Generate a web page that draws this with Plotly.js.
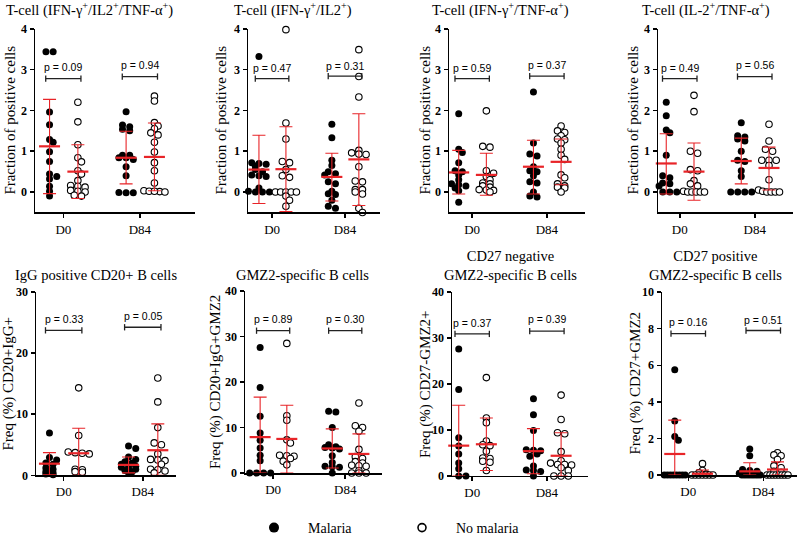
<!DOCTYPE html>
<html><head><meta charset="utf-8">
<script src="https://cdn.plot.ly/plotly-3.0.1.min.js"></script>
<style>html,body{margin:0;padding:0;background:#fff}#chart{width:797px;height:544px}</style>
</head><body><div id="chart"></div>
<script>
// ---------- data ----------
const timepoints = ["D0", "D84"];
const groupNames = ["Malaria", "No malaria"];
const titles = [
  "T-cell (IFN-γ<sup>+</sup>/IL2<sup>+</sup>/TNF-α<sup>+</sup>)",
  "T-cell (IFN-γ<sup>+</sup>/IL2<sup>+</sup>)",
  "T-cell (IFN-γ<sup>+</sup>/TNF-α<sup>+</sup>)",
  "T-cell (IL-2<sup>+</sup>/TNF-α<sup>+</sup>)",
  "IgG positive CD20+ B cells",
  "GMZ2-specific B cells",
  "CD27 negative<br>GMZ2-specific B cells",
  "CD27 positive<br>GMZ2-specific B cells"
];
const yTitles = [
  "Fraction of positive cells", "Fraction of positive cells",
  "Fraction of positive cells", "Fraction of positive cells",
  "Freq (%) CD20+IgG+", "Freq (%) CD20+IgG+GMZ2",
  "Freq (%) CD27-GMZ2+", "Freq (%) CD27+GMZ2"
];

// Panel 1: T-cell IFN-g/IL2/TNF-a
const p1MalD0  = [3.44, 3.44, 1.96, 1.65, 1.29, 1.22, 0.99, 0.75, 0.44, 0.38, 0.32, 0.14, 0.02, -0.10];
const p1NoD0   = [2.20, 1.72, 1.16, 0.84, 0.74, 0.52, 0.44, 0.28, 0.16, 0.14, 0.12, 0.04, 0.02, 0.00, -0.08, -0.10];
const p1MalD84 = [1.97, 1.64, 1.60, 1.54, 1.50, 0.90, 0.90, 0.84, 0.84, 0.80, 0.62, 0.40, -0.02, -0.01, -0.02];
const p1NoD84  = [2.35, 2.23, 1.70, 1.62, 1.55, 1.45, 1.40, 1.22, 0.98, 0.72, 0.52, 0.22, 0.03, 0.02, 0.01, 0.00, 0.02];
const p1Mean = [1.12, 0.50, 0.84, 0.86];
const p1Upper = [2.27, 1.16, 1.49, 1.69];
const p1Lower = [-0.04, -0.16, 0.20, 0.03];

// Panel 2: T-cell IFN-g/IL2
const p2MalD0  = [3.32, 0.72, 0.70, 0.68, 0.64, 0.55, 0.50, 0.42, 0.40, 0.38, 0.10, 0.02, 0.00, 0.00, 0.00];
const p2NoD0   = [3.98, 1.69, 1.30, 0.75, 0.72, 0.55, 0.40, 0.36, 0.00, 0.00, 0.00, 0.00, 0.00, -0.10, -0.20, -0.35];
const p2MalD84 = [1.66, 1.33, 0.78, 0.65, 0.50, 0.45, 0.42, 0.25, 0.20, 0.02, -0.04, -0.06, -0.20, -0.35, -0.40];
const p2NoD84  = [3.49, 2.83, 2.33, 1.02, 0.96, 0.93, 0.92, 0.62, 0.27, 0.25, 0.06, 0.06, 0.00, -0.05, -0.40, -0.50];
const p2Mean = [0.55, 0.56, 0.37, 0.80];
const p2Upper = [1.39, 1.60, 0.95, 1.92];
const p2Lower = [-0.28, -0.48, -0.22, -0.33];

// Panel 3: T-cell IFN-g/TNF-a
const p3MalD0  = [1.92, 1.05, 0.97, 0.72, 0.52, 0.50, 0.42, 0.30, 0.20, 0.18, 0.15, 0.10, 0.03, -0.25];
const p3NoD0   = [1.99, 1.12, 1.10, 0.52, 0.46, 0.38, 0.30, 0.22, 0.20, 0.15, 0.12, 0.06, 0.05, 0.04, 0.00];
const p3MalD84 = [2.45, 1.20, 0.93, 0.88, 0.62, 0.52, 0.50, 0.40, 0.25, 0.22, 0.00, -0.10, -0.12];
const p3NoD84  = [1.62, 1.50, 1.46, 1.38, 1.30, 1.28, 1.20, 1.05, 0.90, 0.80, 0.42, 0.35, 0.20, 0.15, 0.12, 0.10, 0.00];
const p3Mean = [0.48, 0.42, 0.62, 0.74];
const p3Upper = [1.02, 0.95, 1.27, 1.30];
const p3Lower = [-0.05, -0.08, -0.05, 0.18];

// Panel 4: T-cell IL-2/TNF-a
const p4MalD0  = [2.20, 1.87, 1.52, 1.45, 0.90, 0.40, 0.35, 0.22, 0.20, 0.15, 0.00, 0.00, 0.00, 0.00];
const p4NoD0   = [2.37, 1.97, 1.00, 0.95, 0.55, 0.52, 0.28, 0.20, 0.15, 0.02, 0.00, 0.00, 0.00, 0.00, 0.00];
const p4MalD84 = [1.70, 1.38, 1.35, 1.30, 1.25, 1.00, 0.78, 0.75, 0.52, 0.38, 0.00, 0.00, 0.00, 0.00];
const p4NoD84  = [1.66, 1.25, 1.05, 1.00, 0.78, 0.78, 0.78, 0.65, 0.30, 0.05, 0.02, 0.00, 0.00, 0.00, 0.00];
const p4Mean = [0.70, 0.50, 0.76, 0.59];
const p4Upper = [1.43, 1.20, 1.32, 1.10];
const p4Lower = [-0.05, -0.20, 0.20, 0.05];

// Panel 5: IgG positive CD20+ B cells
const p5MalD0  = [6.9, 2.9, 2.5, 2.0, 1.8, 1.2, 1.0, 0.6, 0.4, 0.2, 0.1];
const p5NoD0   = [14.3, 6.5, 3.8, 3.7, 3.6, 3.5, 1.0, 0.9, 0.6, 0.5];
const p5MalD84 = [4.8, 4.4, 3.0, 2.6, 2.2, 2.0, 1.8, 1.6, 1.5, 1.3, 1.1, 1.0, 0.8, 0.6, 0.4];
const p5NoD84  = [15.9, 12.0, 7.8, 5.3, 5.0, 3.5, 2.6, 2.5, 2.4, 1.8, 1.0, 0.9, 0.7, 0.4];
const p5Mean = [1.9, 3.6, 1.7, 4.1];
const p5Upper = [3.7, 7.7, 3.0, 8.4];
const p5Lower = [0.1, 0.0, 0.4, 0.0];

// Panel 6: GMZ2-specific B cells
const p6MalD0  = [27.6, 18.8, 12.5, 8.8, 7.2, 5.5, 3.9, 2.7, 0, 0, 0, 0];
const p6NoD0   = [28.5, 12.6, 11.6, 7.3, 6.6, 3.9, 3.8, 3.7, 3.2, 2.6, 1.8];
const p6MalD84 = [13.6, 13.4, 10.0, 6.2, 5.8, 5.6, 5.5, 5.3, 3.8, 2.3, 1.5, 1.4, 1.3, 0.0];
const p6NoD84  = [15.4, 10.4, 10.0, 9.2, 5.2, 3.6, 3.2, 2.5, 2.2, 1.7, 1.6, 1.5, 0.5, 0, 0, 0];
const p6Mean = [7.9, 7.5, 5.4, 4.2];
const p6Upper = [16.7, 14.9, 9.7, 8.6];
const p6Lower = [0.0, 0.0, 1.1, 0.0];

// Panel 7: CD27 negative GMZ2-specific B cells
const p7MalD0  = [27.6, 18.8, 8.3, 6.5, 4.8, 2.8, 1.6, 0, 0, 0];
const p7NoD0   = [21.4, 12.6, 11.6, 7.6, 6.8, 6.6, 5.4, 3.9, 3.8, 3.2, 3.0, 1.2];
const p7MalD84 = [16.8, 13.3, 9.9, 5.7, 5.6, 5.5, 4.8, 4.3, 2.2, 1.3, 1.2, 1.0, 0];
const p7NoD84  = [17.6, 12.3, 9.4, 9.2, 5.3, 3.3, 2.8, 2.5, 2.5, 2.4, 1.8, 1.2, 0, 0, 0];
const p7Mean = [6.6, 6.9, 5.4, 4.4];
const p7Upper = [15.4, 12.6, 10.3, 9.4];
const p7Lower = [0.0, 1.2, 0.5, 0.0];

// Panel 8: CD27 positive GMZ2-specific B cells
const p8MalD0  = [5.75, 2.95, 2.1, 1.9, 0, 0, 0, 0, 0, 0, 0, 0];
const p8NoD0   = [0.62, 0.25, 0.12, 0.05, 0, 0, 0, 0, 0, 0, 0];
const p8MalD84 = [1.42, 1.05, 0.3, 0.25, 0.2, 0.1, 0, 0, 0, 0, 0, 0, 0, 0];
const p8NoD84  = [1.22, 1.1, 1.05, 0.85, 0.5, 0.4, 0.2, 0.15, 0, 0, 0, 0, 0, 0, 0, 0];
const p8Mean = [1.15, 0.07, 0.20, 0.30];
const p8Upper = [3.0, 0.27, 0.67, 0.72];
const p8Lower = [0, 0, 0, 0];

// p values and bracket levels (D0, D84)
const pValues = [["0.09","0.94"],["0.47","0.31"],["0.59","0.37"],["0.49","0.56"],
                 ["0.33","0.05"],["0.89","0.30"],["0.37","0.39"],["0.16","0.51"]];
const bracketY = [[2.78,2.83],[2.78,2.84],[2.78,2.84],[2.78,2.83],
                  [23.7,24.2],[31.3,31.3],[30.9,31.5],[7.73,7.9]];
const pTextY = [[3.06,3.11],[3.04,3.10],[3.04,3.11],[3.04,3.11],
                [25.6,26.1],[33.9,33.9],[33.3,34.1],[8.36,8.5]];

const panelPoints = [
  [p1MalD0, p1NoD0, p1MalD84, p1NoD84],
  [p2MalD0, p2NoD0, p2MalD84, p2NoD84],
  [p3MalD0, p3NoD0, p3MalD84, p3NoD84],
  [p4MalD0, p4NoD0, p4MalD84, p4NoD84],
  [p5MalD0, p5NoD0, p5MalD84, p5NoD84],
  [p6MalD0, p6NoD0, p6MalD84, p6NoD84],
  [p7MalD0, p7NoD0, p7MalD84, p7NoD84],
  [p8MalD0, p8NoD0, p8MalD84, p8NoD84]
];
const panelMean = [p1Mean,p2Mean,p3Mean,p4Mean,p5Mean,p6Mean,p7Mean,p8Mean];
const panelUpper = [p1Upper,p2Upper,p3Upper,p4Upper,p5Upper,p6Upper,p7Upper,p8Upper];
const panelLower = [p1Lower,p2Lower,p3Lower,p4Lower,p5Lower,p6Lower,p7Lower,p8Lower];

// ---------- layout geometry (pixels) ----------
const W = 797, H = 544;
const geom = [
  {x:[35,195],  y:[29.3,216],  xr:[-0.37,1.72], yr:[-0.5,4], dt:1, tx:89,  ty:21,  yx:10},
  {x:[248,380], y:[29.3,216],  xr:[-0.33,1.48], yr:[-0.5,4], dt:1, tx:293, ty:21,  yx:221},
  {x:[449,585], y:[29.3,216],  xr:[-0.31,1.51], yr:[-0.5,4], dt:1, tx:500, ty:21,  yx:425},
  {x:[658,793], y:[29.3,216],  xr:[-0.29,1.51], yr:[-0.5,4], dt:1, tx:706, ty:21,  yx:633},
  {x:[36,176],  y:[296.7,483.3], xr:[-0.35,1.42], yr:[0,30], dt:10, tx:96,  ty:290, yx:9},
  {x:[245,382], y:[296,481],   xr:[-0.39,1.51], yr:[0,40], dt:10, tx:302, ty:290, yx:215},
  {x:[452,588], y:[297,484],   xr:[-0.27,1.55], yr:[0,40], dt:10, tx:510, ty:290, yx:425},
  {x:[662,797], y:[297,483],   xr:[-0.35,1.45], yr:[0,10], dt:2,  tx:715, ty:290, yx:636}
];
const GROUP_OFF = [-0.18, 0.19];
const BR_HALF = 0.23;
const RED = "rgb(232,36,40)";
const SERIF = "Liberation Serif, Times New Roman, serif";
const SANS = "Liberation Sans, Arial, sans-serif";

// compact beeswarm offsets (pixels -> data units), overlap allowed like Prism scatter-dot plots
function swarm(vals, pxX, pxY) {
  const d = 7.2, maxSpan = 21, thr = 2.2, minDist = 4.6;
  const order = vals.map((v, i) => i).sort((a, b) => vals[b] - vals[a]);
  const rows = [];
  order.forEach(i => {
    const py = vals[i] * pxY;
    const r = rows[rows.length - 1];
    if (r && Math.abs(r.py0 - py) < thr) r.items.push(i);
    else rows.push({py0: py, items: [i]});
  });
  const placed = [];
  const off = new Array(vals.length).fill(0);
  const cands = [0, d / 2, -d / 2, d, -d];
  rows.forEach(r => {
    const n = r.items.length;
    const s = n > 1 ? Math.min(d, maxSpan / (n - 1)) : 0;
    let best = null, bestScore = -1;
    for (let ci = 0; ci < cands.length; ci++) {
      const c = n > 1 ? 0 : cands[ci];
      const xs = r.items.map((_, j) => c + (j - (n - 1) / 2) * s);
      let minD = Infinity;
      r.items.forEach((it, j) => placed.forEach(p => {
        minD = Math.min(minD, Math.hypot(p.x - xs[j], p.y - vals[it] * pxY));
      }));
      if (minD >= minDist) { best = xs; break; }
      if (minD > bestScore + 1.5) { bestScore = minD; best = xs; }
      if (n > 1) break;
    }
    r.items.forEach((it, j) => { off[it] = best[j]; placed.push({x: best[j], y: vals[it] * pxY}); });
  });
  return off.map(o => o / pxX);
}

const traces = [];
const annotations = [];
const NB = "\u00a0\u00a0\u00a0\u00a0";
const layout = {
  width: W, height: H,
  margin: {l: 0, r: 0, t: 0, b: 0},
  paper_bgcolor: "#fff", plot_bgcolor: "rgba(0,0,0,0)",
  showlegend: true,
  legend: {
    orientation: "h", x: 254 / W, xanchor: "left", y: 1 - 537 / H, yanchor: "middle",
    font: {family: SERIF, size: 14, color: "#000"},
    entrywidth: 103, entrywidthmode: "pixels",
    bgcolor: "rgba(0,0,0,0)"
  },
  annotations: annotations
};

geom.forEach((g, i) => {
  const k = i + 1;
  const sfx = k === 1 ? "" : String(k);
  const xa = "x" + sfx, ya = "y" + sfx;
  layout["xaxis" + sfx] = {
    domain: [g.x[0] / W, Math.min(1, g.x[1] / W)], range: g.xr, anchor: ya,
    tickmode: "array", tickvals: [0, 1], ticktext: timepoints,
    showline: true, linecolor: "#000", linewidth: 1.5, mirror: false,
    ticks: "outside", ticklen: 4, tickwidth: 1.5, tickcolor: "#000",
    showgrid: false, zeroline: false, fixedrange: true,
    tickfont: {family: SERIF, size: 13, color: "#000"}
  };
  layout["yaxis" + sfx] = {
    domain: [1 - g.y[1] / H, 1 - g.y[0] / H], range: g.yr, anchor: xa,
    tick0: 0, dtick: g.dt,
    showline: true, linecolor: "#000", linewidth: 1.5,
    ticks: "outside", ticklen: 4, tickwidth: 1.5, tickcolor: "#000",
    showgrid: false, zeroline: false, fixedrange: true,
    tickfont: {family: SERIF, size: 12, color: "#000", weight: "bold"}
  };
  const pxX = (g.x[1] - g.x[0]) / (g.xr[1] - g.xr[0]);
  const pxY = (g.y[1] - g.y[0]) / (g.yr[1] - g.yr[0]);

  const pts = panelPoints[i];
  // dots
  [0, 1].forEach(grp => {
    const xs = [], ys = [];
    [0, 1].forEach(t => {
      const vals = pts[t * 2 + grp];
      const offs = swarm(vals, pxX, pxY);
      vals.forEach((v, j) => { xs.push(t + GROUP_OFF[grp] + offs[j]); ys.push(v); });
    });
    traces.push({
      type: "scatter", mode: "markers", xaxis: xa, yaxis: ya, x: xs, y: ys,
      cliponaxis: false, hoverinfo: "skip", showlegend: false,
      marker: grp === 0
        ? {symbol: "circle", size: 7, color: "#000", line: {width: 0}}
        : {symbol: "circle", size: 6.5, color: "#fff", line: {width: 1.1, color: "#000"}}
    });
  });

  // mean + SD
  const mx = [], my = [], up = [], dn = [];
  [0, 1].forEach(t => [0, 1].forEach(grp => {
    const idx = t * 2 + grp;
    mx.push(t + GROUP_OFF[grp]);
    my.push(panelMean[i][idx]);
    up.push(panelUpper[i][idx] - panelMean[i][idx]);
    dn.push(panelMean[i][idx] - panelLower[i][idx]);
  }));
  traces.push({
    type: "scatter", mode: "markers", xaxis: xa, yaxis: ya, x: mx, y: my,
    cliponaxis: false, hoverinfo: "skip", showlegend: false,
    marker: {symbol: "line-ew", size: 15, color: RED, line: {width: 2.2, color: RED}},
    error_y: {type: "data", symmetric: false, array: up, arrayminus: dn,
              color: RED, thickness: 1.1, width: 6.5}
  });

  // brackets and p values
  [0, 1].forEach(t => {
    traces.push({
      type: "scatter", mode: "lines+markers", xaxis: xa, yaxis: ya,
      x: [t - BR_HALF, t + BR_HALF], y: [bracketY[i][t], bracketY[i][t]],
      cliponaxis: false, hoverinfo: "skip", showlegend: false,
      line: {color: "#222", width: 1.3},
      marker: {symbol: "line-ns", size: 4.5, color: "#222", line: {width: 1.3, color: "#222"}}
    });
    annotations.push({
      xref: xa, yref: ya, x: t, y: pTextY[i][t], text: "p = " + pValues[i][t],
      showarrow: false, font: {family: SANS, size: 10.5, color: "#000"},
      xanchor: "center", yanchor: "middle"
    });
  });

  // panel title
  annotations.push({
    xref: "paper", yref: "paper", x: g.tx / W, y: 1 - g.ty / H, text: titles[i],
    showarrow: false, xanchor: "center", yanchor: "bottom",
    font: {family: SERIF, size: 14.5, color: "#000"}
  });
  // y-axis title
  annotations.push({
    xref: "paper", yref: "paper", x: g.yx / W, y: 1 - ((g.y[0] + g.y[1]) / 2) / H,
    text: yTitles[i], textangle: -90, showarrow: false,
    xanchor: "center", yanchor: "middle",
    font: {family: SERIF, size: 15, color: "#000"}
  });
});

// legend entries
traces.push({
  type: "scatter", mode: "markers", x: [null], y: [null], name: NB + groupNames[0],
  hoverinfo: "skip", marker: {symbol: "circle", size: 10, color: "#000"}
});
traces.push({
  type: "scatter", mode: "markers", x: [null], y: [null], name: NB + groupNames[1],
  hoverinfo: "skip", marker: {symbol: "circle", size: 8, color: "#fff", line: {width: 1.6, color: "#000"}}
});

Plotly.newPlot("chart", traces, layout, {staticPlot: true, displayModeBar: false});
</script>
</body></html>
